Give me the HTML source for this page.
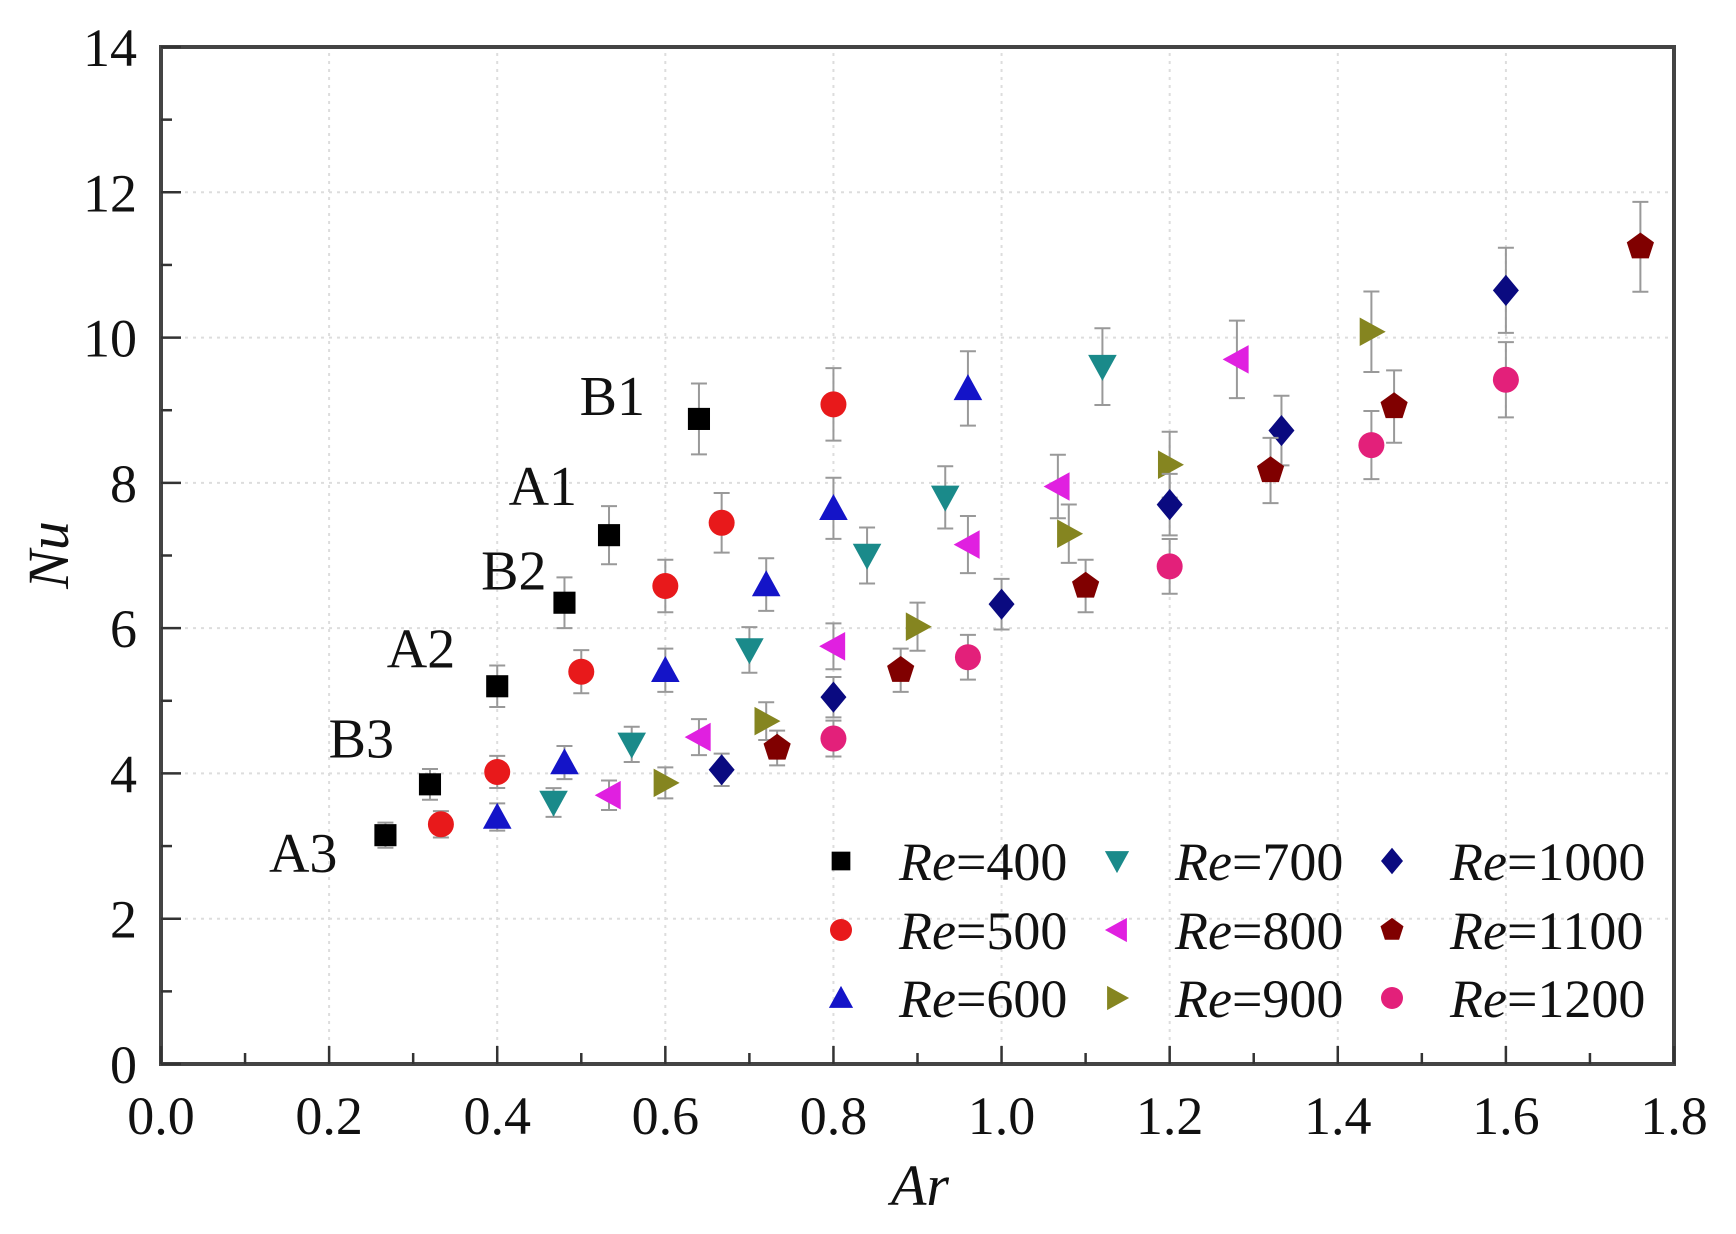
<!DOCTYPE html>
<html><head><meta charset="utf-8"><style>
body{margin:0;background:#fff}
svg text{font-family:"Liberation Serif",serif;fill:#111}
</style></head><body>
<svg id="chart" width="1736" height="1229" xmlns="http://www.w3.org/2000/svg"></svg>
<script>
const xTicks=[0,0.2,0.4,0.6,0.8,1.0,1.2,1.4,1.6,1.8];
const yTicks=[0,2,4,6,8,10,12,14];
const seriesNames=["Re=400","Re=500","Re=600","Re=700","Re=800","Re=900","Re=1000","Re=1100","Re=1200"];
const ar400=[0.267,0.32,0.40,0.48,0.533,0.64];
const nu400=[3.15,3.85,5.2,6.35,7.28,8.88];
const ar500=[0.333,0.40,0.50,0.60,0.667,0.80];
const nu500=[3.3,4.02,5.4,6.58,7.45,9.08];
const ar600=[0.40,0.48,0.60,0.72,0.80,0.96];
const nu600=[3.4,4.15,5.42,6.6,7.65,9.3];
const ar700=[0.467,0.56,0.70,0.84,0.933,1.12];
const nu700=[3.6,4.4,5.7,7.0,7.8,9.6];
const ar800=[0.533,0.64,0.80,0.96,1.067,1.28];
const nu800=[3.7,4.5,5.75,7.15,7.95,9.7];
const ar900=[0.60,0.72,0.90,1.08,1.20,1.44];
const nu900=[3.87,4.72,6.02,7.3,8.25,10.08];
const ar1000=[0.667,0.80,1.00,1.20,1.333,1.60];
const nu1000=[4.05,5.05,6.33,7.7,8.72,10.65];
const ar1100=[0.733,0.88,1.10,1.32,1.467,1.76];
const nu1100=[4.35,5.42,6.58,8.17,9.05,11.25];
const ar1200=[0.80,0.96,1.20,1.44,1.60];
const nu1200=[4.48,5.6,6.85,8.52,9.42];
const pointLabels=["A3","B3","A2","B2","A1","B1"];
const labelDX=[-48,-36,-42,-18,-32,-54];
const labelDY=[17,-47,-39,-33,-50,-24];

const X0=161,X1=1674,Y0=1064,Y1=47;
const sx=v=>X0+(v-0)/(1.8-0)*(X1-X0);
const sy=v=>Y0-(v-0)/(14-0)*(Y0-Y1);
const svg=document.getElementById('chart');
const NS='http://www.w3.org/2000/svg';
function mk(tag,attrs,parent){const e=document.createElementNS(NS,tag);for(const k in attrs)e.setAttribute(k,attrs[k]);(parent||svg).appendChild(e);return e;}

const grid=mk('g',{});


xTicks.slice(1,-1).forEach(t=>mk('line',{x1:sx(t),x2:sx(t),y1:Y0,y2:Y1,stroke:'#ddd','stroke-width':2,'stroke-dasharray':'3,5'},grid));
yTicks.slice(1,-1).forEach(t=>mk('line',{x1:X0,x2:X1,y1:sy(t),y2:sy(t),stroke:'#ddd','stroke-width':2,'stroke-dasharray':'3,5'},grid));

const frame=mk('rect',{x:X0,y:Y1,width:X1-X0,height:Y0-Y1,fill:'none',stroke:'#444','stroke-width':4});



const xAxis=mk('g',{});


for(let i=0;i<=18;i++){const v=i*0.1;const major=i%2===0;mk('line',{x1:sx(v),x2:sx(v),y1:Y0,y2:Y0-(major?18:11),stroke:'#333','stroke-width':2.5},xAxis);}
xTicks.forEach(t=>{const tx=mk('text',{x:sx(t),y:Y0+70,'font-size':54,'text-anchor':'middle'},xAxis);tx.textContent=t.toFixed(1);

});
const yAxis=mk('g',{});


for(let i=0;i<=14;i++){const major=i%2===0;mk('line',{x1:X0,x2:X0+(major?20:11),y1:sy(i),y2:sy(i),stroke:'#333','stroke-width':2.5},yAxis);}
yTicks.forEach(t=>{const tx=mk('text',{x:X0-24,y:sy(t)+19,'font-size':54,'text-anchor':'end'},yAxis);tx.textContent=t;

});

const xt=mk('text',{x:920,y:1205,'font-size':58,'font-style':'italic','text-anchor':'middle'});xt.textContent='Ar';


const yt=mk('text',{x:0,y:0,'font-size':58,'font-style':'italic','text-anchor':'middle',transform:'translate(68,555) rotate(-90)'});yt.textContent='Nu';



const colors=['#000','#e8191b','#1414c8','#1a8a8a','#e020e0','#858520','#0a0a80','#800000','#e3207a'];
const shapes=['square','circle','up','down','left','right','diamond','pentagon','circle'];
const xsAll=[ar400,ar500,ar600,ar700,ar800,ar900,ar1000,ar1100,ar1200];
const ysAll=[nu400,nu500,nu600,nu700,nu800,nu900,nu1000,nu1100,nu1200];

function marker(shape,x,y,c,parent,s){
  s=s||12;
  if(shape==='square')return mk('rect',{x:x-s*0.85,y:y-s*0.85,width:s*1.7,height:s*1.7,fill:c},parent);
  if(shape==='circle')return mk('circle',{cx:x,cy:y,r:s,fill:c},parent);
  let p;
  if(shape==='up')p=[[x,y-s*1.1],[x+s*1.1,y+s*0.9],[x-s*1.1,y+s*0.9]];
  if(shape==='down')p=[[x,y+s*1.1],[x+s*1.1,y-s*0.9],[x-s*1.1,y-s*0.9]];
  if(shape==='left')p=[[x-s*1.1,y],[x+s*0.9,y-s*1.1],[x+s*0.9,y+s*1.1]];
  if(shape==='right')p=[[x+s*1.1,y],[x-s*0.9,y-s*1.1],[x-s*0.9,y+s*1.1]];
  if(shape==='diamond')p=[[x,y-s*1.2],[x+s,y],[x,y+s*1.2],[x-s,y]];
  if(shape==='pentagon'){p=[];for(let k=0;k<5;k++){const a=-Math.PI/2+k*2*Math.PI/5;p.push([x+s*1.1*Math.cos(a),y+s*1.1*Math.sin(a)]);}}
  return mk('polygon',{points:p.map(q=>q.join(',')).join(' '),fill:c},parent);
}

xsAll.forEach((xs,si)=>{
  const g=mk('g',{});
  
  
  xs.forEach((xv,i)=>{
    const yv=ysAll[si][i];const px=sx(xv),py=sy(yv);const e=sy(yv-0.055*yv)-py;
    mk('line',{x1:px,x2:px,y1:py-e,y2:py+e,stroke:'#999','stroke-width':2},g);
    mk('line',{x1:px-8,x2:px+8,y1:py-e,y2:py-e,stroke:'#999','stroke-width':2},g);
    mk('line',{x1:px-8,x2:px+8,y1:py+e,y2:py+e,stroke:'#999','stroke-width':2},g);
    const m=marker(shapes[si],px,py,colors[si],g,13);
    
    
  });
});

pointLabels.forEach((lab,i)=>{
  const t=mk('text',{x:sx(ar400[i])+labelDX[i],y:sy(nu400[i])+labelDY[i]+20,'font-size':56,'text-anchor':'end'});
  t.textContent=lab;
  
  
});

const leg=mk('g',{});


const colX=[841,1117,1392],rowY=[861,930,998];
seriesNames.forEach((n,i)=>{
  const c=Math.floor(i/3),r=i%3;
  const e=mk('g',{},leg);
  
  
  marker(shapes[i],colX[c],rowY[r],colors[i],e,11);
  const t=mk('text',{x:colX[c]+58,y:rowY[r]+19,'font-size':54},e);
  const it=mk('tspan',{'font-style':'italic'},t);it.textContent='Re';
  const rest=mk('tspan',{},t);rest.textContent=n.slice(2);
});
</script>
</body></html>
